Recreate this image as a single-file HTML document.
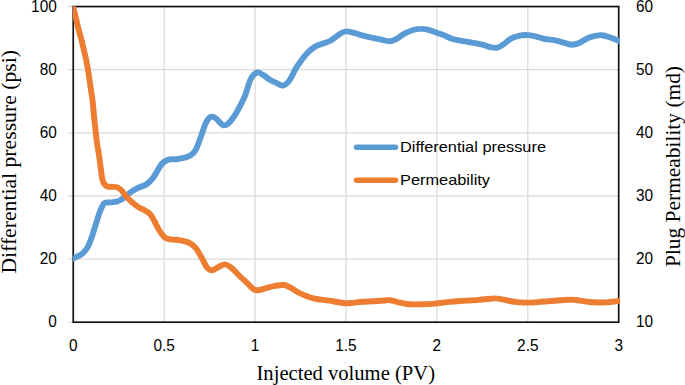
<!DOCTYPE html>
<html><head><meta charset="utf-8"><style>
html,body{margin:0;padding:0;background:#fff;}
svg{display:block;}
</style></head><body>
<svg width="685" height="385" viewBox="0 0 685 385">
<rect width="685" height="385" fill="#fff"/>
<g stroke="#d9d9d9" stroke-width="1.2" fill="none">
<line x1="68" y1="69.68" x2="618.70" y2="69.68"/>
<line x1="68" y1="132.81" x2="618.70" y2="132.81"/>
<line x1="68" y1="195.94" x2="618.70" y2="195.94"/>
<line x1="68" y1="259.07" x2="618.70" y2="259.07"/>
<line x1="68" y1="6.55" x2="73.25" y2="6.55"/>
<line x1="68" y1="322.20" x2="73.25" y2="322.20"/>
<line x1="164.16" y1="6.55" x2="164.16" y2="322.20"/>
<line x1="255.07" y1="6.55" x2="255.07" y2="322.20"/>
<line x1="345.98" y1="6.55" x2="345.98" y2="322.20"/>
<line x1="436.88" y1="6.55" x2="436.88" y2="322.20"/>
<line x1="527.79" y1="6.55" x2="527.79" y2="322.20"/>
</g>
<rect x="73.25" y="6.55" width="545.45" height="315.65" fill="none" stroke="#111" stroke-width="1.7"/>
<defs><clipPath id="pc"><rect x="72.9" y="6.2" width="547.1" height="330"/></clipPath></defs>
<g clip-path="url(#pc)">
<path d="M73.2,258.6 C73.9,258.2 75.8,257.4 77.4,256.5 C79.0,255.6 80.9,255.0 82.6,253.4 C84.3,251.8 86.2,250.0 87.7,247.2 C89.2,244.4 90.5,240.8 91.9,236.8 C93.3,232.8 94.7,227.6 96.1,223.3 C97.5,219.0 98.8,214.2 100.2,210.8 C101.6,207.5 103.0,204.6 104.4,203.2 C105.9,201.8 107.5,202.7 108.9,202.5 C110.3,202.3 111.5,202.2 112.8,202.1 C114.1,201.9 115.4,201.9 116.7,201.6 C118.0,201.2 119.3,200.7 120.6,200.0 C121.9,199.3 123.2,198.3 124.5,197.3 C125.8,196.3 126.9,195.2 128.4,194.0 C129.9,192.8 131.6,191.5 133.5,190.3 C135.4,189.1 137.8,188.0 140.0,187.0 C142.2,186.0 144.4,185.8 146.6,184.3 C148.8,182.8 150.6,181.2 153.1,177.8 C155.6,174.4 159.2,167.0 161.7,164.0 C164.2,161.0 165.8,160.4 168.2,159.6 C170.6,158.8 173.4,159.5 176.0,159.2 C178.6,158.9 181.4,158.4 183.8,157.8 C186.2,157.2 188.4,156.8 190.3,155.6 C192.2,154.3 193.8,153.3 195.5,150.3 C197.2,147.3 198.9,142.1 200.6,137.5 C202.3,132.9 204.1,126.5 205.8,123.0 C207.5,119.5 209.3,117.5 211.0,116.8 C212.7,116.1 214.2,117.2 216.2,118.6 C218.1,120.0 220.8,124.1 222.7,125.0 C224.6,125.9 225.9,125.3 227.9,123.8 C229.9,122.3 232.2,119.2 234.4,116.0 C236.6,112.8 239.1,107.8 240.9,104.3 C242.7,100.8 243.6,99.4 245.2,95.3 C246.8,91.2 248.5,83.5 250.4,79.7 C252.3,75.9 254.7,73.3 256.9,72.6 C259.1,71.8 261.2,74.0 263.4,75.2 C265.6,76.4 267.7,78.5 269.9,79.8 C272.1,81.1 274.2,81.9 276.4,82.9 C278.6,83.9 280.7,86.0 282.9,85.6 C285.1,85.2 287.2,83.3 289.4,80.5 C291.5,77.7 293.7,72.1 295.8,68.6 C297.9,65.1 300.4,61.8 302.1,59.4 C303.8,57.0 304.8,55.8 306.2,54.3 C307.6,52.8 308.8,51.4 310.4,50.1 C312.0,48.8 313.9,47.4 315.6,46.4 C317.3,45.4 319.1,44.9 320.8,44.3 C322.5,43.7 324.3,43.3 326.0,42.6 C327.7,41.9 329.5,41.2 331.2,40.2 C332.9,39.2 334.6,37.8 336.3,36.6 C338.0,35.4 339.8,33.9 341.5,33.0 C343.2,32.1 345.0,31.5 346.7,31.4 C348.4,31.3 350.2,31.9 351.9,32.3 C353.6,32.7 355.6,33.2 357.1,33.7 C358.7,34.2 358.8,34.4 361.2,35.1 C363.6,35.8 368.4,37.0 371.6,37.7 C374.8,38.4 377.6,38.9 380.6,39.5 C383.6,40.1 386.9,41.4 389.5,41.3 C392.1,41.2 393.8,40.2 396.2,39.0 C398.6,37.8 401.2,35.3 404.0,33.8 C406.8,32.3 410.3,30.8 413.1,30.0 C415.9,29.2 418.4,28.9 420.9,28.9 C423.3,28.8 425.4,29.1 427.8,29.7 C430.2,30.3 433.0,31.4 435.6,32.3 C438.2,33.2 440.6,34.0 443.4,35.1 C446.2,36.2 449.5,38.0 452.5,39.0 C455.5,40.0 458.4,40.2 461.6,40.8 C464.8,41.4 468.4,42.0 471.9,42.6 C475.3,43.2 479.0,43.9 482.3,44.7 C485.6,45.5 489.0,46.9 491.5,47.4 C494.0,47.9 495.5,48.1 497.5,47.6 C499.5,47.1 501.3,45.9 503.5,44.4 C505.7,42.9 508.1,40.1 510.9,38.6 C513.6,37.1 517.2,36.2 520.0,35.6 C522.8,35.0 525.2,35.0 527.8,35.1 C530.4,35.2 532.8,35.8 535.6,36.4 C538.4,37.0 541.5,38.4 544.7,39.0 C548.0,39.6 551.9,39.7 555.1,40.3 C558.4,40.9 561.4,42.1 564.2,42.8 C567.0,43.5 569.1,44.7 571.7,44.7 C574.3,44.7 577.1,43.8 579.7,42.7 C582.3,41.6 584.9,39.4 587.5,38.3 C590.1,37.2 592.9,36.4 595.3,35.9 C597.7,35.4 599.4,35.0 601.8,35.2 C604.2,35.4 607.4,36.5 609.6,37.2 C611.8,37.9 613.2,38.5 615.0,39.2 C616.8,39.9 619.6,41.1 620.5,41.5" fill="none" stroke="#5B9BD5" stroke-width="5.9" stroke-linejoin="round" stroke-linecap="round"/>
<path d="M72.9,6.3 C73.4,8.0 74.7,12.9 75.6,16.5 C76.5,20.1 77.4,24.8 78.2,28.0 C79.0,31.2 79.7,33.4 80.4,36.0 C81.1,38.6 81.5,39.7 82.4,43.6 C83.3,47.5 85.1,54.9 86.0,59.2 C86.9,63.5 87.3,65.9 87.9,69.3 C88.5,72.7 88.9,76.3 89.4,79.4 C89.9,82.5 90.2,84.5 90.7,88.0 C91.2,91.5 92.0,95.9 92.6,100.6 C93.1,105.3 93.5,111.0 94.0,116.2 C94.5,121.4 95.2,126.9 95.7,131.7 C96.2,136.5 96.7,141.0 97.3,145.0 C97.9,149.0 98.5,151.2 99.1,155.6 C99.7,160.0 100.6,167.3 101.1,171.2 C101.6,175.1 101.8,176.9 102.3,179.0 C102.8,181.1 103.1,182.2 104.0,183.5 C104.9,184.8 106.1,185.9 107.5,186.5 C108.9,187.1 110.9,186.7 112.5,186.8 C114.1,186.9 115.7,186.8 117.0,187.2 C118.3,187.6 119.5,188.6 120.6,189.5 C121.7,190.4 122.1,191.2 123.4,192.8 C124.7,194.4 126.7,197.0 128.4,198.8 C130.1,200.6 131.7,202.1 133.5,203.6 C135.3,205.1 137.8,206.8 139.5,207.8 C141.2,208.8 142.2,209.0 143.4,209.6 C144.6,210.2 145.6,210.8 146.8,211.6 C148.0,212.4 149.2,212.8 150.5,214.5 C151.8,216.2 153.1,218.8 154.6,221.5 C156.1,224.2 157.7,228.0 159.3,230.5 C160.9,233.0 162.4,235.2 164.0,236.7 C165.6,238.1 166.6,238.7 168.6,239.2 C170.6,239.7 173.6,239.5 176.2,239.8 C178.8,240.1 181.4,240.5 184.0,241.2 C186.6,241.9 189.5,242.8 191.6,244.2 C193.7,245.6 195.1,247.0 196.8,249.4 C198.5,251.8 200.3,255.4 202.0,258.4 C203.7,261.4 205.4,265.6 207.1,267.6 C208.8,269.6 210.4,270.3 212.3,270.2 C214.2,270.1 216.7,267.9 218.8,266.9 C220.9,265.9 222.6,264.2 224.8,264.4 C227.0,264.6 229.3,266.3 231.8,268.2 C234.3,270.1 237.2,273.6 239.6,276.0 C242.0,278.4 244.3,280.2 246.5,282.4 C248.7,284.5 251.1,287.6 253.0,288.9 C254.9,290.2 256.0,290.4 258.2,290.3 C260.4,290.2 263.2,288.9 266.0,288.2 C268.8,287.4 272.1,286.3 275.1,285.8 C278.1,285.3 281.6,284.7 284.2,285.0 C286.8,285.3 288.2,286.4 290.6,287.6 C293.0,288.9 295.6,291.0 298.4,292.5 C301.2,294.0 304.5,295.3 307.5,296.4 C310.5,297.5 313.6,298.4 316.6,299.0 C319.6,299.6 323.5,299.9 325.7,300.2 C327.9,300.5 328.1,300.4 330.0,300.7 C331.9,301.0 334.7,301.6 337.3,302.0 C339.9,302.4 342.8,303.2 345.5,303.3 C348.2,303.4 350.7,302.9 353.6,302.7 C356.5,302.4 359.4,302.0 362.7,301.8 C366.0,301.6 370.0,301.5 373.6,301.3 C377.2,301.1 381.7,300.7 384.5,300.5 C387.3,300.3 388.2,299.9 390.5,300.2 C392.8,300.5 395.8,301.7 398.4,302.3 C401.0,302.9 403.5,303.6 406.4,304.0 C409.2,304.4 412.5,304.4 415.5,304.4 C418.5,304.4 422.2,304.2 424.5,304.2 C426.8,304.1 426.8,304.2 429.1,304.1 C431.4,304.0 435.2,303.6 438.2,303.3 C441.2,303.0 444.3,302.4 447.3,302.1 C450.3,301.8 453.1,301.6 456.4,301.3 C459.7,301.1 463.7,300.8 467.3,300.6 C470.9,300.4 474.9,300.2 478.2,299.9 C481.5,299.6 484.4,299.2 487.3,299.0 C490.2,298.8 493.1,298.3 495.5,298.4 C497.9,298.4 499.5,298.9 501.8,299.3 C504.1,299.7 506.7,300.4 509.1,300.9 C511.5,301.3 514.4,301.8 516.4,302.0 C518.4,302.2 518.9,302.3 521.0,302.4 C523.1,302.5 526.2,302.7 529.1,302.6 C532.0,302.6 534.9,302.4 538.2,302.1 C541.5,301.9 545.5,301.4 549.1,301.1 C552.7,300.8 556.3,300.6 560.0,300.3 C563.7,300.1 568.1,299.6 571.4,299.6 C574.7,299.7 577.0,300.2 580.0,300.6 C583.0,301.0 585.8,301.7 589.1,302.0 C592.4,302.3 596.9,302.4 600.0,302.5 C603.1,302.6 605.7,302.4 608.0,302.3 C610.3,302.2 611.9,301.9 614.0,301.6 C616.1,301.3 619.4,300.8 620.5,300.6" fill="none" stroke="#ED7D31" stroke-width="5.9" stroke-linejoin="round" stroke-linecap="round"/>
</g>
<g font-family="Liberation Sans, sans-serif" font-size="16.3" fill="#000">
<text x="56.8" y="11.70" text-anchor="end" textLength="25.69" lengthAdjust="spacingAndGlyphs">100</text>
<text x="56.8" y="74.83" text-anchor="end" textLength="17.12" lengthAdjust="spacingAndGlyphs">80</text>
<text x="56.8" y="137.96" text-anchor="end" textLength="17.12" lengthAdjust="spacingAndGlyphs">60</text>
<text x="56.8" y="201.09" text-anchor="end" textLength="17.12" lengthAdjust="spacingAndGlyphs">40</text>
<text x="56.8" y="264.22" text-anchor="end" textLength="17.12" lengthAdjust="spacingAndGlyphs">20</text>
<text x="56.8" y="327.35" text-anchor="end" textLength="8.56" lengthAdjust="spacingAndGlyphs">0</text>
<text x="636.0" y="11.70" textLength="17.12" lengthAdjust="spacingAndGlyphs">60</text>
<text x="636.0" y="74.83" textLength="17.12" lengthAdjust="spacingAndGlyphs">50</text>
<text x="636.0" y="137.96" textLength="17.12" lengthAdjust="spacingAndGlyphs">40</text>
<text x="636.0" y="201.09" textLength="17.12" lengthAdjust="spacingAndGlyphs">30</text>
<text x="636.0" y="264.22" textLength="17.12" lengthAdjust="spacingAndGlyphs">20</text>
<text x="636.0" y="327.35" textLength="17.12" lengthAdjust="spacingAndGlyphs">10</text>
<text x="73.25" y="350.8" text-anchor="middle" textLength="8.56" lengthAdjust="spacingAndGlyphs">0</text>
<text x="164.16" y="350.8" text-anchor="middle" textLength="21.41" lengthAdjust="spacingAndGlyphs">0.5</text>
<text x="255.07" y="350.8" text-anchor="middle" textLength="8.56" lengthAdjust="spacingAndGlyphs">1</text>
<text x="345.98" y="350.8" text-anchor="middle" textLength="21.41" lengthAdjust="spacingAndGlyphs">1.5</text>
<text x="436.88" y="350.8" text-anchor="middle" textLength="8.56" lengthAdjust="spacingAndGlyphs">2</text>
<text x="527.79" y="350.8" text-anchor="middle" textLength="21.41" lengthAdjust="spacingAndGlyphs">2.5</text>
<text x="618.70" y="350.8" text-anchor="middle" textLength="8.56" lengthAdjust="spacingAndGlyphs">3</text>
</g>
<line x1="356.5" y1="147.2" x2="395.5" y2="147.2" stroke="#5B9BD5" stroke-width="5.5" stroke-linecap="round"/>
<line x1="356.5" y1="180.2" x2="395.5" y2="180.2" stroke="#ED7D31" stroke-width="5.5" stroke-linecap="round"/>
<g font-family="Liberation Sans, sans-serif" font-size="14.8" fill="#000">
<text x="400" y="151.6" textLength="146" lengthAdjust="spacingAndGlyphs">Differential pressure</text>
<text x="400" y="185.1" textLength="90" lengthAdjust="spacingAndGlyphs">Permeability</text>
</g>
<g font-family="Liberation Serif, serif" fill="#000">
<text x="256.5" y="380.2" font-size="21.3" textLength="178.5" lengthAdjust="spacingAndGlyphs">Injected volume (PV)</text>
<text transform="translate(16.0,273.6) rotate(-90)" font-size="21.8" textLength="223.5" lengthAdjust="spacingAndGlyphs">Differential pressure (psi)</text>
<text transform="translate(680.3,267.0) rotate(-90)" font-size="21.6" textLength="201" lengthAdjust="spacingAndGlyphs">Plug Permeability (md)</text>
</g>
</svg>
</body></html>
